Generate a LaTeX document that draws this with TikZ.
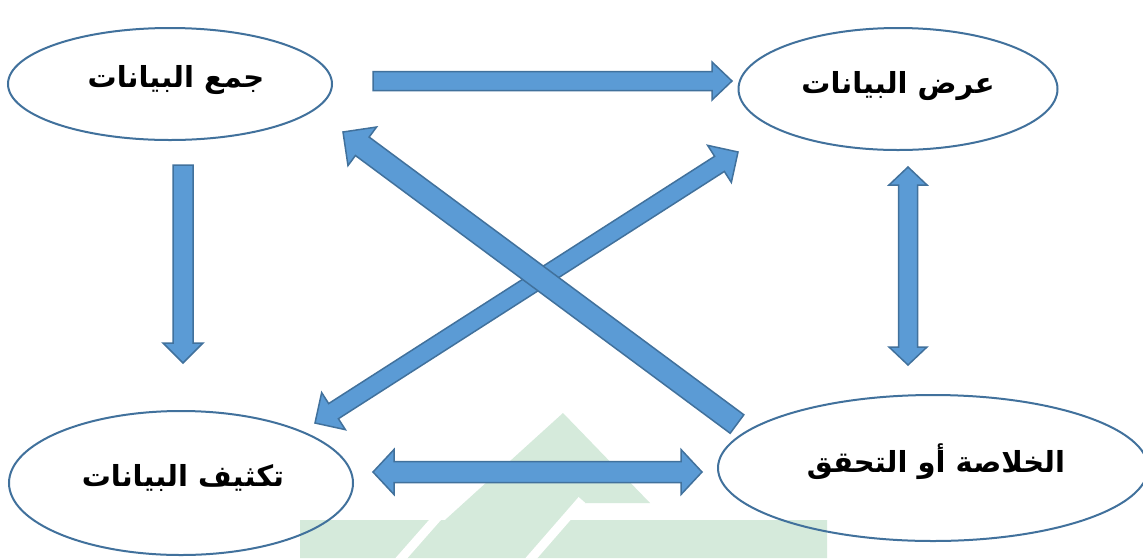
\documentclass[tikz,border=0pt]{standalone}
\usepackage{fontspec}
\newfontfamily\arabicfont[Script=Arabic]{DejaVu Sans}
\TeXXeTstate=1
\usetikzlibrary{calc,shapes.geometric}
\definecolor{arrfill}{HTML}{5B9BD5}
\definecolor{arrline}{HTML}{41719C}
\definecolor{ellline}{HTML}{41719C}
\definecolor{wmark}{HTML}{D5EADB}
\tikzset{
  blockarrow/.style={fill=arrfill, draw=arrline, line width=1.5pt, line join=miter},
  ell/.style={ellipse, draw=ellline, line width=2pt, inner sep=0pt},
  lbl/.style={font=\arabicfont\bfseries\fontsize{29}{34}\selectfont, inner sep=0pt},
}
\newcommand{\singlearrow}[5]{%
  \coordinate (H) at ($(#2)!#5!(#1)$);
  \draw[blockarrow] ($(#1)!#3!90:(#2)$) -- ($(H)!#3!90:(#2)$) -- ($(H)!#4!90:(#2)$) -- (#2)
    -- ($(H)!#4!-90:(#2)$) -- ($(H)!#3!-90:(#2)$) -- ($(#1)!#3!-90:(#2)$) -- cycle;
}
\newcommand{\doublearrow}[5]{%
  \coordinate (HA) at ($(#1)!#5!(#2)$);
  \coordinate (HB) at ($(#2)!#5!(#1)$);
  \draw[blockarrow] (#1) -- ($(HA)!#4!90:(#2)$) -- ($(HA)!#3!90:(#2)$) -- ($(HB)!#3!90:(#2)$)
    -- ($(HB)!#4!90:(#2)$) -- (#2) -- ($(HB)!#4!-90:(#2)$) -- ($(HB)!#3!-90:(#2)$)
    -- ($(HA)!#3!-90:(#2)$) -- ($(HA)!#4!-90:(#2)$) -- cycle;
}
\begin{document}
\begin{tikzpicture}[x=1pt,y=-1pt]
\useasboundingbox (0,0) rectangle (1143,558);
\fill[white] (0,0) rectangle (1143,558);
% faint watermark
\fill[wmark] (300,520) -- (445,520) -- (563,413) -- (650,503) -- (580,503) -- (568,520)
  -- (827,520) -- (827,558) -- (300,558) -- cycle;
\draw[white, line width=9pt] (442,512) -- (398,562);
\draw[white, line width=9pt] (582,500) -- (528,562);

% ellipses
\node[ell, minimum width=324pt, minimum height=112pt] (collect) at (170,84) {};
\node[lbl] at (176,80) {\beginR جمع البيانات\endR};
\node[ell, minimum width=319pt, minimum height=122pt] (display) at (898,89) {};
\node[lbl] at (898,86) {\beginR عرض البيانات\endR};
\node[ell, minimum width=344pt, minimum height=144pt] (condense) at (181,483) {};
\node[lbl] at (183,478) {\beginR تكثيف البيانات\endR};
\node[ell, minimum width=430pt, minimum height=146pt] (conclude) at (933,468) {};
\node[lbl] at (936,462) {\beginR الخلاصة أو التحقق\endR};

% arrow end points
\coordinate (a1) at (373,81);  \coordinate (a2) at (732,81);
\coordinate (b1) at (183,165); \coordinate (b2) at (183,363);
\coordinate (c1) at (908,167); \coordinate (c2) at (908,365);
\coordinate (d1) at (373,472); \coordinate (d2) at (702,472);
\coordinate (e1) at (737,424); \coordinate (e2) at (343,132);
\coordinate (f1) at (315,423); \coordinate (f2) at (738,152);

\singlearrow{a1}{a2}{9.5pt}{19pt}{20pt}
\singlearrow{b1}{b2}{10pt}{20pt}{20pt}
\doublearrow{c1}{c2}{9.5pt}{19pt}{18pt}
\doublearrow{d1}{d2}{10.5pt}{22.5pt}{21pt}
\doublearrow{f1}{f2}{9pt}{22pt}{22pt}
\singlearrow{e1}{e2}{11.5pt}{24pt}{24pt}
\end{tikzpicture}
\end{document}
